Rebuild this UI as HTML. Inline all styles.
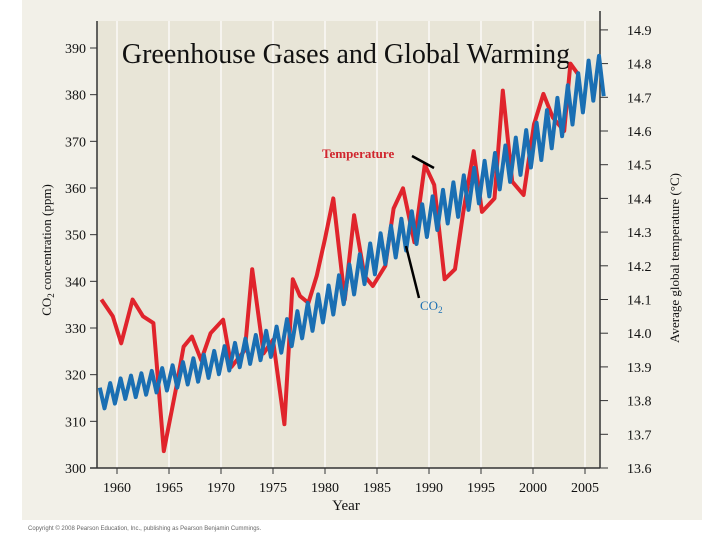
<!DOCTYPE html>
<html><head><meta charset="utf-8"><style>
html,body{margin:0;padding:0;background:#fff;}
body{width:720px;height:540px;position:relative;overflow:hidden;font-family:"Liberation Serif",serif;}
</style></head><body>
<svg width="720" height="540" viewBox="0 0 720 540" xmlns="http://www.w3.org/2000/svg">
<rect x="22" y="0" width="680" height="520" fill="#f2f0e8"/>
<rect x="97" y="21" width="503" height="447" fill="#e8e5d7"/>
<g id="grid"></g>
<g id="axes"></g>
<text x="346" y="63" font-size="28" text-anchor="middle" fill="#111">Greenhouse Gases and Global Warming</text>
<g id="series"></g>
<text x="322" y="158" font-size="13" font-weight="bold" fill="#d0262e">Temperature</text>
<line x1="412" y1="156" x2="434" y2="168" stroke="#000" stroke-width="2.5"/>
<text x="420" y="310" font-size="13" fill="#1a6fb3">CO<tspan font-size="9" dy="3">2</tspan></text>
<line x1="406" y1="246" x2="419" y2="298" stroke="#000" stroke-width="2.5"/>
<text transform="translate(51,250) rotate(-90)" font-size="13" text-anchor="middle" fill="#111">CO<tspan font-size="9" dy="3">2</tspan><tspan dy="-3"> concentration (ppm)</tspan></text>
<text transform="translate(679,258) rotate(-90)" font-size="13" text-anchor="middle" fill="#111">Average global temperature (°C)</text>
<text x="346" y="510" font-size="15" text-anchor="middle" fill="#111">Year</text>
<text x="28" y="530" font-family="Liberation Sans, sans-serif" font-size="6" fill="#666">Copyright © 2008 Pearson Education, Inc., publishing as Pearson Benjamin Cummings.</text>
</svg>
<script>
const xTicks = [1960,1965,1970,1975,1980,1985,1990,1995,2000,2005];
const co2Ticks = [300,310,320,330,340,350,360,370,380,390];
const tempTicks = [13.6,13.7,13.8,13.9,14.0,14.1,14.2,14.3,14.4,14.5,14.6,14.7,14.8,14.9];
const tempYears = [1958.5,1959.6,1960.4,1961.5,1962.5,1963.5,1964.5,1965.7,1966.4,1967.2,1968.1,1969,1970.2,1971,1972.3,1973,1974.1,1975,1976.1,1976.9,1977.6,1978.4,1979.2,1980,1980.8,1981.9,1982.8,1983.8,1984.6,1985.8,1986.6,1987.5,1988.6,1989.6,1990.5,1991.5,1992.5,1993.3,1994.3,1995.1,1996.3,1997.1,1998,1999.1,2000.1,2001,2001.9,2003,2003.6,2004.3];
const tempValues = [14.10,14.05,13.97,14.10,14.05,14.03,13.65,13.84,13.96,13.99,13.92,14.00,14.04,13.90,13.95,14.19,13.94,13.98,13.73,14.16,14.11,14.09,14.17,14.28,14.40,14.10,14.35,14.17,14.14,14.20,14.37,14.43,14.27,14.50,14.44,14.16,14.19,14.36,14.54,14.36,14.40,14.72,14.45,14.41,14.62,14.71,14.64,14.60,14.80,14.77];
const co2Years = [1958,1959,1960,1961,1962,1963,1964,1965,1966,1967,1968,1969,1970,1971,1972,1973,1974,1975,1976,1977,1978,1979,1980,1981,1982,1983,1984,1985,1986,1987,1988,1989,1990,1991,1992,1993,1994,1995,1996,1997,1998,1999,2000,2001,2002,2003,2004,2005,2006];
const co2Mean = [315,316,317,317.5,318,318.5,319,319.6,320.3,321,321.8,322.6,323.5,324.2,325,325.8,326.6,327.5,329,330.7,332.4,334.2,336,338.2,340.4,342.6,344.8,347,348.5,350,351.5,353,354.6,356,357.5,359,360.5,362,363.6,365.2,366.8,368.4,370,372.6,375.2,377.8,380.4,383,384];
const co2Swing = [2.2,2.2,2.2,2.3,2.3,2.3,2.4,2.4,2.4,2.5,2.5,2.5,2.6,2.6,2.7,2.7,2.8,2.8,2.9,2.9,3,3,3.1,3.1,3.2,3.2,3.3,3.3,3.4,3.4,3.5,3.5,3.6,3.6,3.7,3.7,3.8,3.8,3.9,3.9,4,4,4,4.1,4.1,4.2,4.2,4.3,4.3];

const NS='http://www.w3.org/2000/svg';
const X0=97,X1=600,Y0=21,Y1=468;
const xs=y=>117+(y-1960)*10.4;
const yc=v=>468-(v-300)*46.6667/10;
const yt=v=>468-(v-13.6)*337;
function mk(tag,attrs,parent){const e=document.createElementNS(NS,tag);for(const k in attrs)e.setAttribute(k,attrs[k]);parent.appendChild(e);return e;}
const grid=document.getElementById('grid'),axes=document.getElementById('axes'),series=document.getElementById('series');
xTicks.forEach(t=>{
  const g=mk('line',{x1:xs(t),x2:xs(t),y1:Y0,y2:Y1,stroke:'#fff','stroke-width':1.2},grid);
  
  
  const tk=mk('line',{x1:xs(t),x2:xs(t),y1:Y1,y2:Y1+6,stroke:'#333','stroke-width':1},axes);
  
  
  const tx=mk('text',{x:xs(t),y:492,'font-size':14,'text-anchor':'middle',fill:'#111'},axes);
  tx.textContent=t;
  
  
});
mk('line',{x1:X0,x2:X0,y1:Y0,y2:Y1,stroke:'#333','stroke-width':1.5},axes);
mk('line',{x1:X1,x2:X1,y1:Y0-10,y2:Y1,stroke:'#333','stroke-width':1.5},axes);
mk('line',{x1:X0-7,x2:X1,y1:Y1,y2:Y1,stroke:'#333','stroke-width':1.5},axes);
co2Ticks.forEach(t=>{
  const tk=mk('line',{x1:X0-7,x2:X0,y1:yc(t),y2:yc(t),stroke:'#333','stroke-width':1},axes);
  
  
  const tx=mk('text',{x:86,y:yc(t)+5,'font-size':14,'text-anchor':'end',fill:'#111'},axes);
  tx.textContent=t;
  
  
});
tempTicks.forEach(t=>{
  const tk=mk('line',{x1:X1,x2:X1+8,y1:yt(t),y2:yt(t),stroke:'#333','stroke-width':1},axes);
  
  
  const tx=mk('text',{x:627,y:yt(t)+5,'font-size':14,fill:'#111'},axes);
  tx.textContent=t.toFixed(1);
  
  
});
let pts=[];
co2Years.forEach((yr,i)=>{
  pts.push([xs(yr+0.35),yc(co2Mean[i]+co2Swing[i])]);
  pts.push([xs(yr+0.8),yc(co2Mean[i]-co2Swing[i])]);
});
const co2=mk('polyline',{points:pts.map(p=>p[0].toFixed(1)+','+p[1].toFixed(1)).join(' '),fill:'none',stroke:'#1a6fb3','stroke-width':4,'stroke-linejoin':'round'},series);
const tpts=tempYears.map((yr,i)=>xs(yr).toFixed(1)+','+yt(tempValues[i]).toFixed(1)).join(' ');
const temp=mk('polyline',{points:tpts,fill:'none',stroke:'#e0242c','stroke-width':4,'stroke-linejoin':'round'},series);


series.appendChild(co2);


</script>
</body></html>
